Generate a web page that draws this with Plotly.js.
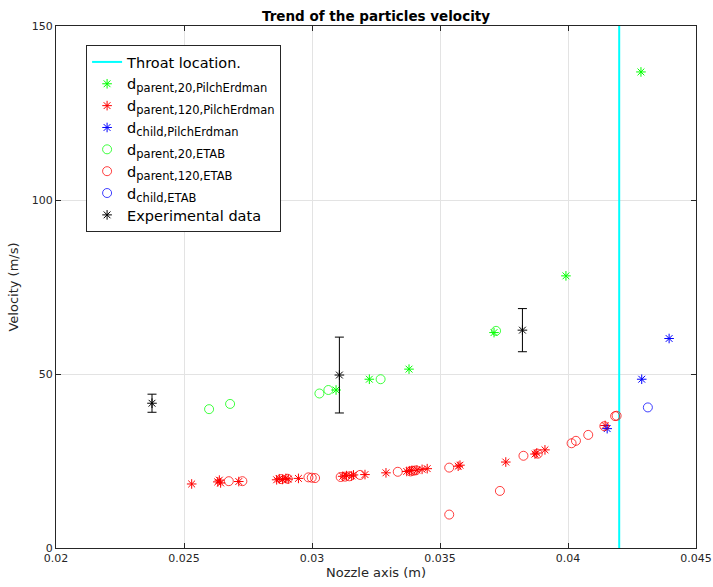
<!DOCTYPE html>
<html>
<head>
<meta charset="utf-8">
<script src="https://cdn.plot.ly/plotly-3.0.1.min.js"></script>
<style>html,body{margin:0;padding:0;background:#fff;}#chart{width:713px;height:587px;}</style>
</head>
<body>
<div id="chart"></div>
<script>
// ---- Data ----
const throatX = [0.042, 0.042];
const throatY = [0, 150];

const parent20PilchX = [0.03094, 0.03224, 0.03379, 0.03711, 0.03992, 0.04285];
const parent20PilchY = [45.4, 48.5, 51.4, 61.9, 78.2, 136.8];

const parent120PilchX = [0.0253, 0.02632, 0.02638, 0.02643, 0.02714, 0.02862, 0.02872, 0.02885, 0.02898, 0.02907, 0.02947, 0.0312, 0.03135, 0.03155, 0.03162, 0.03207, 0.03289, 0.0337, 0.0338, 0.0339, 0.0341, 0.0343, 0.0345, 0.03571, 0.03578, 0.03757, 0.03871, 0.03878, 0.0391, 0.04145];
const parent120PilchY = [18.4, 19.0, 19.5, 18.7, 19.1, 19.6, 19.9, 19.7, 20.0, 19.8, 20.0, 20.6, 20.8, 20.7, 21.0, 21.1, 21.6, 22.0, 22.2, 22.3, 22.4, 22.6, 22.8, 23.5, 23.8, 24.7, 27.0, 27.3, 28.2, 35.2];

const childPilchX = [0.04153, 0.04288, 0.04395];
const childPilchY = [34.3, 48.5, 60.2];

const parent20EtabX = [0.02598, 0.0268, 0.03029, 0.03064, 0.03268, 0.03719];
const parent20EtabY = [39.9, 41.4, 44.4, 45.4, 48.5, 62.4];

const parent120EtabX = [0.02675, 0.02728, 0.0288, 0.02905, 0.02986, 0.02999, 0.03012, 0.03112, 0.03129, 0.03146, 0.03188, 0.03335, 0.03385, 0.03395, 0.03405, 0.03536, 0.03536, 0.03734, 0.03826, 0.03882, 0.04014, 0.04031, 0.04079, 0.04142, 0.04184, 0.0419];
const parent120EtabY = [19.2, 19.2, 19.8, 19.9, 20.3, 20.2, 20.1, 20.4, 20.5, 20.6, 21.0, 21.9, 22.0, 22.2, 22.3, 23.1, 9.6, 16.4, 26.5, 27.1, 30.1, 30.8, 32.5, 35.0, 37.9, 38.0];

const childEtabX = [0.04312];
const childEtabY = [40.4];

const expX = [0.02375, 0.03107, 0.03822];
const expY = [41.6, 49.7, 62.6];
const expErr = [2.6, 10.9, 6.2];

const xTicks = [0.02, 0.025, 0.03, 0.035, 0.04, 0.045];
const xTickText = ['0.02', '0.025', '0.03', '0.035', '0.04', '0.045'];
const yTicks = [0, 50, 100, 150];

const legendNames = [
  'Throat location.',
  ['parent,20,PilchErdman'],
  ['parent,120,PilchErdman'],
  ['child,PilchErdman'],
  ['parent,20,ETAB'],
  ['parent,120,ETAB'],
  ['child,ETAB'],
  'Experimental data'
];

// ---- Traces ----
function subName(s) {
  return 'd<sub><span style="font-size:11.5px">' + s + '</span></sub>';
}
const starSize = 8, circSize = 9;
function stars(x, y, color, name) {
  return {x, y, name, type: 'scatter', mode: 'markers',
    marker: {symbol: 'asterisk-open', size: starSize, color, line: {color, width: 1}}};
}
function circles(x, y, color, name) {
  return {x, y, name, type: 'scatter', mode: 'markers',
    marker: {symbol: 'circle-open', size: circSize, color, opacity: 0.75, line: {color, width: 1}}};
}

const traces = [
  {x: throatX, y: throatY, name: legendNames[0], type: 'scatter', mode: 'lines',
   line: {color: '#00ffff', width: 2}},
  stars(parent20PilchX, parent20PilchY, '#00ff00', subName(legendNames[1][0])),
  stars(parent120PilchX, parent120PilchY, '#ff0000', subName(legendNames[2][0])),
  stars(childPilchX, childPilchY, '#0000ff', subName(legendNames[3][0])),
  circles(parent20EtabX, parent20EtabY, '#00ff00', subName(legendNames[4][0])),
  circles(parent120EtabX, parent120EtabY, '#ff0000', subName(legendNames[5][0])),
  circles(childEtabX, childEtabY, '#0000ff', subName(legendNames[6][0])),
  {x: expX, y: expY, name: legendNames[7], type: 'scatter', mode: 'markers',
   marker: {symbol: 'asterisk-open', size: starSize, color: '#000000', line: {color: '#000000', width: 1}},
   error_y: {type: 'data', array: expErr, visible: true, color: '#000000', thickness: 1, width: 4.5}}
];

const axisCommon = {
  showline: true, mirror: 'ticks', linecolor: '#262626', linewidth: 1,
  ticks: 'inside', ticklen: 5, tickcolor: '#262626',
  showgrid: true, gridcolor: '#e3e3e3', gridwidth: 1, zeroline: false,
  tickfont: {family: 'DejaVu Sans', size: 11, color: '#262626'}
};

const layout = {
  width: 713, height: 587,
  margin: {l: 56, r: 17, t: 26, b: 39},
  paper_bgcolor: '#ffffff', plot_bgcolor: '#ffffff',
  font: {family: 'DejaVu Sans', color: '#000000'},
  title: {text: '<b>Trend of the particles velocity</b>', font: {family: 'DejaVu Sans', size: 13.5, color: '#000'},
          xref: 'paper', x: 0.5, xanchor: 'center', yref: 'container', y: 0.973, yanchor: 'middle'},
  xaxis: Object.assign({}, axisCommon, {
    range: [0.02, 0.045], tickvals: xTicks, ticktext: xTickText,
    title: {text: 'Nozzle axis (m)', font: {family: 'DejaVu Sans', size: 13, color: '#262626'}, standoff: 3}
  }),
  yaxis: Object.assign({}, axisCommon, {
    range: [0, 150], tickvals: yTicks,
    title: {text: 'Velocity (m/s)', font: {family: 'DejaVu Sans', size: 13, color: '#262626'}, standoff: 10}
  }),
  showlegend: true,
  legend: {x: 0.047, y: 0.9636, xanchor: 'left', yanchor: 'top',
           bgcolor: '#ffffff', bordercolor: '#262626', borderwidth: 1,
           font: {family: 'DejaVu Sans', size: 14.5, color: '#000'},
           tracegroupgap: 0, itemwidth: 30}
};

Plotly.newPlot('chart', traces, layout, {displayModeBar: false, staticPlot: true});
</script>
</body>
</html>
